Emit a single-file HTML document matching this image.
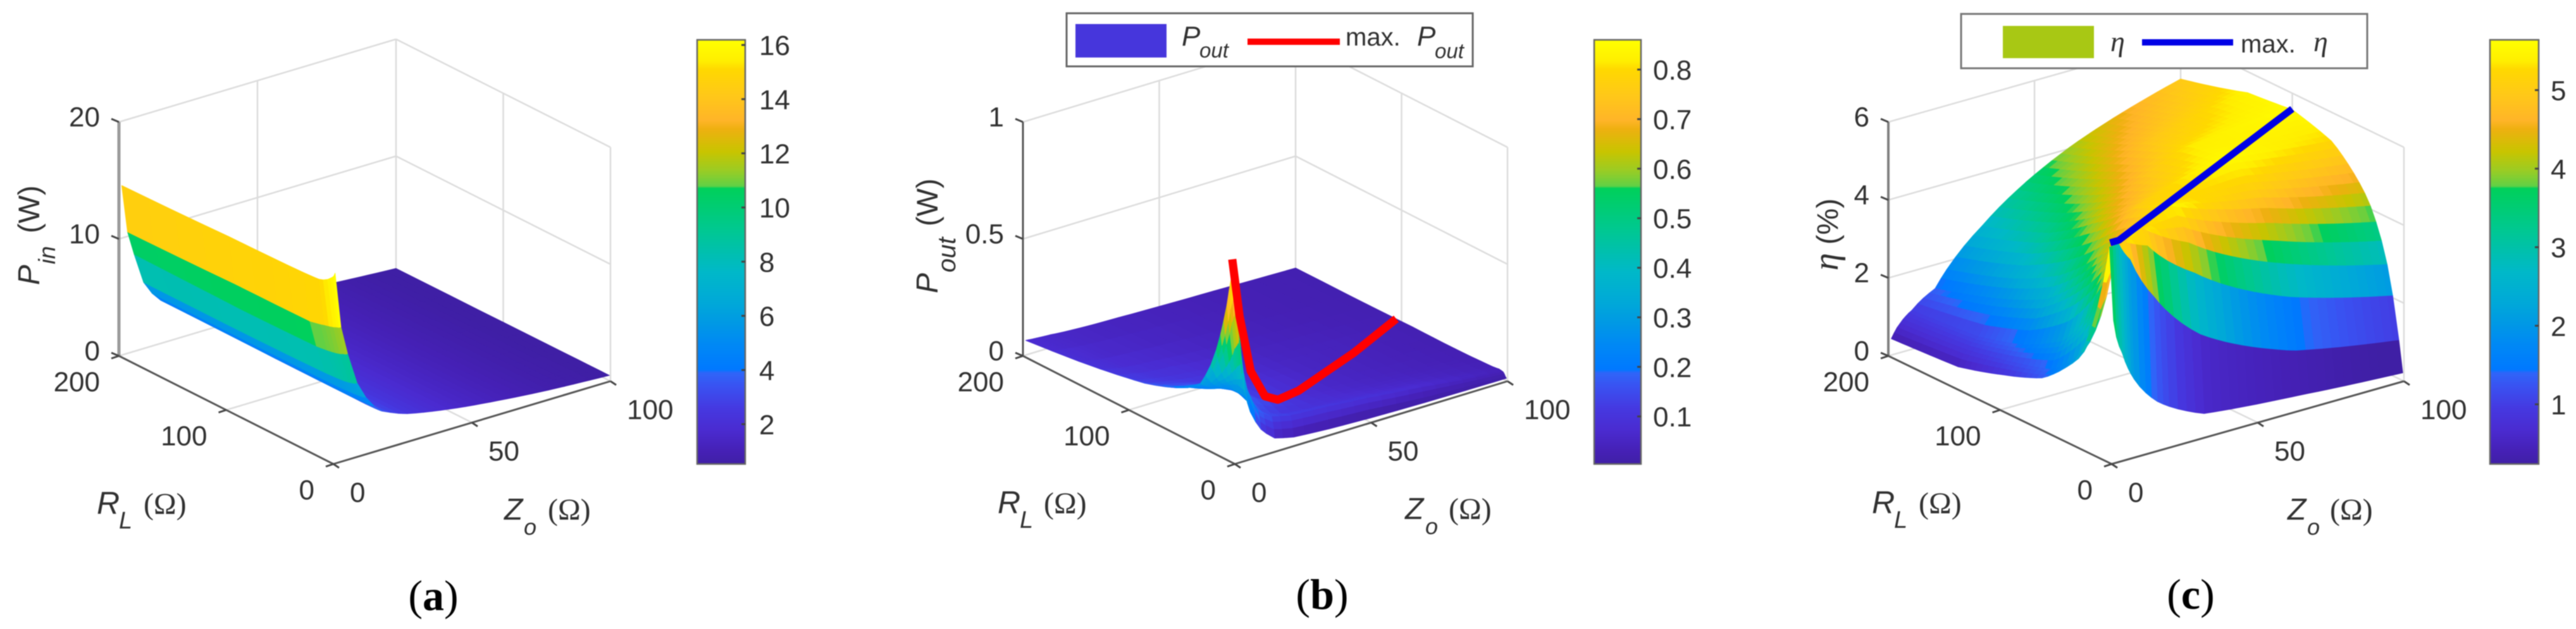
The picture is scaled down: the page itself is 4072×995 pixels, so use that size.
<!DOCTYPE html>
<html lang="en">
<head>
<meta charset="utf-8">
<title>Pin, Pout and efficiency surfaces versus Zo and RL</title>
<style>
html,body{margin:0;padding:0;background:#fff;width:4072px;height:995px;overflow:hidden}
svg{display:block;filter:blur(0.9px)}
text{font-family:"Liberation Sans",sans-serif;fill:#303030}
.serif{font-family:"Liberation Serif",serif}
.it{font-style:italic}
</style>
</head>
<body>
<svg id="figure" xmlns="http://www.w3.org/2000/svg" width="4072" height="995" viewBox="0 0 4072 995">
  <defs id="defs"></defs>
  <rect x="0" y="0" width="4072" height="995" fill="#fff"/>
  <g id="panel-a"></g>
  <g id="panel-b"></g>
  <g id="panel-c"></g>

  <g>
    <text class="it" transform="translate(62,451) rotate(-90)" font-size="48">P</text>
    <text class="it" transform="translate(87,418) rotate(-90)" font-size="37">in</text>
    <text transform="translate(62,369) rotate(-90)" font-size="47">(W)</text>
  </g>
  <g>
    <text class="it" x="153" y="813" font-size="50">R</text>
    <text class="it" x="188" y="836" font-size="38">L</text>
    <text class="serif" x="227" y="813" font-size="48">(Ω)</text>
  </g>
  <g>
    <text class="it" x="797" y="822" font-size="48">Z</text>
    <text class="it" x="828" y="846" font-size="36">o</text>
    <text class="serif" x="866" y="822" font-size="48">(Ω)</text>
  </g>
  <text class="serif" x="685" y="965" font-size="68" text-anchor="middle" style="fill:#000">(<tspan font-weight="bold">a</tspan>)</text>

  <g>
    <text class="it" transform="translate(1482,464) rotate(-90)" font-size="48">P</text>
    <text class="it" transform="translate(1510,431) rotate(-90)" font-size="40">out</text>
    <text transform="translate(1482,358) rotate(-90)" font-size="47">(W)</text>
  </g>
  <g>
    <text class="it" x="1577" y="812" font-size="50">R</text>
    <text class="it" x="1612" y="835" font-size="38">L</text>
    <text class="serif" x="1650" y="812" font-size="48">(Ω)</text>
  </g>
  <g>
    <text class="it" x="2221" y="821" font-size="48">Z</text>
    <text class="it" x="2253" y="845" font-size="36">o</text>
    <text class="serif" x="2290" y="821" font-size="48">(Ω)</text>
  </g>
  <text class="serif" x="2090" y="963" font-size="68" text-anchor="middle" style="fill:#000">(<tspan font-weight="bold">b</tspan>)</text>

  <g>
    <text class="serif it" transform="translate(2905,428) rotate(-90)" font-size="56">η</text>
    <text transform="translate(2905,387) rotate(-90)" font-size="47">(%)</text>
  </g>
  <g>
    <text class="it" x="2959" y="812" font-size="50">R</text>
    <text class="it" x="2994" y="835" font-size="38">L</text>
    <text class="serif" x="3033" y="812" font-size="48">(Ω)</text>
  </g>
  <g>
    <text class="it" x="3616" y="822" font-size="48">Z</text>
    <text class="it" x="3647" y="846" font-size="36">o</text>
    <text class="serif" x="3683" y="822" font-size="48">(Ω)</text>
  </g>
  <text class="serif" x="3463" y="963" font-size="68" text-anchor="middle" style="fill:#000">(<tspan font-weight="bold">c</tspan>)</text>

  <g>
    <rect x="1686" y="21" width="642" height="84" fill="#fff" stroke="#666" stroke-width="3"/>
    <rect x="1700" y="38" width="144" height="53" fill="#4636dc"/>
    <text class="it" x="1868" y="72" font-size="44">P</text>
    <text class="it" x="1896" y="91" font-size="33">out</text>
    <line x1="1972" y1="66" x2="2118" y2="66" stroke="#ff0000" stroke-width="10"/>
    <text x="2127" y="72" font-size="40">max.</text>
    <text class="it" x="2240" y="72" font-size="44">P</text>
    <text class="it" x="2268" y="92" font-size="33">out</text>
  </g>
  <g>
    <rect x="3100" y="22" width="642" height="86" fill="#fff" stroke="#777" stroke-width="3"/>
    <rect x="3166" y="41" width="144" height="51" fill="#a8c814"/>
    <text class="serif it" x="3336" y="81" font-size="46">η</text>
    <line x1="3386" y1="67" x2="3530" y2="67" stroke="#0000e6" stroke-width="10"/>
    <text x="3542" y="83" font-size="40">max.</text>
    <text class="serif it" x="3657" y="81" font-size="46">η</text>
  </g>
</svg>

<script>
// ---------- shared tick data ----------
const zoTicks = [0, 50, 100];
const rlTicks = [0, 100, 200];

// ---------- panel (a) input power, W ----------
const pinZo = [1, 3, 5.5, 9, 14, 18, 26, 48, 77, 100];
const pinRl = [1, 5, 15, 30, 100, 200];
const pinValues = [
  [16.2, 11.6, 9.0, 6.2, 4.1, 3.2, 2.4, 1.46, 0.76, 0.45],
  [15.6, 11.4, 8.8, 6.0, 4.0, 3.15, 2.4, 1.46, 0.76, 0.45],
  [15.0, 11.1, 8.5, 5.8, 3.95, 3.1, 2.4, 1.46, 0.76, 0.45],
  [14.9, 10.75, 8.3, 5.7, 3.9, 3.1, 2.4, 1.46, 0.76, 0.45],
  [14.75, 10.7, 8.2, 5.6, 3.9, 3.1, 2.4, 1.46, 0.76, 0.42],
  [14.5, 10.5, 8.3, 5.6, 3.9, 3.2, 2.4, 1.46, 0.76, 0.40]
];
const pinTicks = [0, 10, 20];
const pinBarTicks = [2, 4, 6, 8, 10, 12, 14, 16];

// ---------- panel (b) output power, W ----------
const poutZo = [1, 2, 3.5, 6, 10, 15, 22, 35, 50, 70, 100];
const poutRl = [1, 2, 4, 8, 14, 25, 35, 60, 90, 140, 200];
const poutValues = [
  [0.70, 0.52, 0.32, 0.20, 0.11, 0.055, 0.035, 0.024, 0.017, 0.012, 0.010],
  [0.78, 0.62, 0.40, 0.25, 0.14, 0.09, 0.07, 0.06, 0.05, 0.03, 0.015],
  [0.86, 0.65, 0.45, 0.29, 0.18, 0.14, 0.12, 0.11, 0.095, 0.07, 0.03],
  [0.72, 0.58, 0.42, 0.28, 0.19, 0.14, 0.118, 0.105, 0.09, 0.07, 0.034],
  [0.56, 0.46, 0.36, 0.29, 0.20, 0.14, 0.105, 0.09, 0.078, 0.06, 0.03],
  [0.365, 0.33, 0.29, 0.26, 0.22, 0.17, 0.13, 0.085, 0.066, 0.05, 0.028],
  [0.26, 0.25, 0.24, 0.22, 0.21, 0.18, 0.12, 0.08, 0.06, 0.044, 0.026],
  [0.19, 0.18, 0.18, 0.17, 0.165, 0.14, 0.12, 0.08, 0.055, 0.04, 0.024],
  [0.14, 0.13, 0.125, 0.12, 0.11, 0.10, 0.09, 0.07, 0.05, 0.04, 0.025],
  [0.095, 0.09, 0.085, 0.08, 0.07, 0.065, 0.06, 0.05, 0.04, 0.03, 0.022],
  [0.063, 0.062, 0.06, 0.058, 0.055, 0.05, 0.045, 0.04, 0.035, 0.03, 0.022]
];
const maxPoutZo = [1, 3.3, 7, 13, 22, 35, 50, 70, 100];
const maxPoutRl = [5, 4, 3, 5, 16, 30, 47, 68, 105];
const maxPoutValues = [0.86, 0.61, 0.365, 0.232, 0.16, 0.12, 0.095, 0.07, 0.024];
const poutTicks = [0, 0.5, 1];
const poutBarTicks = [0.1, 0.2, 0.3, 0.4, 0.5, 0.6, 0.7, 0.8];

// ---------- panel (c) efficiency, % ----------
const etaZo = [1, 2, 4, 8, 16, 32, 64, 100];
const etaRl = [1, 2, 4, 8, 16, 32, 64, 100, 140, 200];
const etaValues = [
  [3.65, 3.2, 2.75, 2.0, 1.25, 0.6, 0.38, 0.2],
  [4.6, 4.9, 4.8, 3.7, 2.35, 1.3, 0.62, 0.45],
  [5.6, 5.6, 5.58, 4.9, 3.7, 2.35, 1.3, 0.85],
  [4.9, 4.9, 5.2, 5.58, 4.9, 3.7, 2.35, 1.65],
  [3.7, 3.6, 3.9, 5.0, 5.58, 4.9, 3.7, 2.9],
  [2.3, 2.3, 2.5, 3.6, 5.0, 5.58, 4.9, 4.2],
  [1.3, 1.35, 1.45, 2.1, 3.55, 4.98, 5.58, 5.25],
  [0.88, 1.0, 1.15, 1.5, 2.5, 4.1, 5.35, 5.58],
  [0.53, 0.7, 0.9, 1.15, 1.95, 3.3, 4.85, 5.46],
  [0.42, 0.55, 0.75, 1.0, 1.39, 2.65, 4.1, 4.98]
];
const maxEtaZo = [1, 4, 10, 20, 30, 40, 50, 60, 70, 80, 90, 100];
const maxEtaRl = [4, 4, 10, 20, 30, 40, 50, 60, 70, 80, 90, 100];
const maxEtaValues = [5.6, 5.6, 5.6, 5.6, 5.6, 5.6, 5.6, 5.6, 5.6, 5.6, 5.6, 5.6];
const etaTicks = [0, 2, 4, 6];
const etaBarTicks = [1, 2, 3, 4, 5];

// ---------- colormap ----------
const cmapPos = [0, 0.03, 0.08, 0.13, 0.18, 0.215, 0.222, 0.28, 0.33, 0.38, 0.453, 0.553, 0.65, 0.655, 0.69, 0.736, 0.79, 0.81, 0.87, 0.93, 0.95, 1];
const cmapHex = ['#3f1fa5', '#4520b5', '#4a2bd0', '#4538e0', '#3a50f0', '#2f65f8', '#0078ff', '#0088f5', '#0098e5', '#00a8d8', '#00b8c8', '#00c890', '#00d05a', '#60d045', '#98cc25', '#c8c400', '#eeb010', '#ffb428', '#ffc818', '#ffd800', '#ffee00', '#ffff00'];

const NS = 'http://www.w3.org/2000/svg';
function rgb(h) { return [parseInt(h.substr(1, 2), 16), parseInt(h.substr(3, 2), 16), parseInt(h.substr(5, 2), 16)]; }
function cmap(t) {
  t = Math.max(0, Math.min(1, t));
  let k = 0;
  while (k < cmapPos.length - 2 && t > cmapPos[k + 1]) k++;
  const f = (t - cmapPos[k]) / (cmapPos[k + 1] - cmapPos[k]);
  const a = rgb(cmapHex[k]), b = rgb(cmapHex[k + 1]);
  return 'rgb(' + Math.round(a[0] + (b[0] - a[0]) * f) + ',' + Math.round(a[1] + (b[1] - a[1]) * f) + ',' + Math.round(a[2] + (b[2] - a[2]) * f) + ')';
}

// axis functions: data -> pixels
function project(p, zo, rl, v) {
  return [
    p.fx + zo / 100 * (p.rx - p.fx) + rl / 200 * (p.lx - p.fx),
    p.fy + zo / 100 * (p.ry - p.fy) + rl / 200 * (p.ly - p.fy) - v / p.zMax * p.zPx
  ];
}
function barY(p, v) { return p.barBottom - (v - p.cLo) / (p.cHi - p.cLo) * (p.barBottom - p.barTop); }

// surface lookup, bilinear in log coordinates over the read values
function bracket(arr, x) {
  let i = 0;
  while (i < arr.length - 2 && x > arr[i + 1]) i++;
  return [i, (Math.log(x) - Math.log(arr[i])) / (Math.log(arr[i + 1]) - Math.log(arr[i]))];
}
function lookup(zoArr, rlArr, vals, zo, rl) {
  const a = bracket(zoArr, zo), b = bracket(rlArr, rl);
  const i = b[0], j = a[0], u = a[1], w = b[1];
  return (vals[i][j] * (1 - u) + vals[i][j + 1] * u) * (1 - w) + (vals[i + 1][j] * (1 - u) + vals[i + 1][j + 1] * u) * w;
}

function addLine(parent, a, b, stroke, width, name) {
  const el = document.createElementNS(NS, 'line');
  
  
  el.setAttribute('x1', a[0]); el.setAttribute('y1', a[1]);
  el.setAttribute('x2', b[0]); el.setAttribute('y2', b[1]);
  el.setAttribute('stroke', stroke); el.setAttribute('stroke-width', width);
  parent.appendChild(el);
}
function addText(parent, x, y, str, anchor, name) {
  const el = document.createElementNS(NS, 'text');
  
  
  el.setAttribute('x', x); el.setAttribute('y', y);
  el.setAttribute('font-size', 44);
  el.setAttribute('text-anchor', anchor);
  el.textContent = str;
  parent.appendChild(el);
}

function drawFrame(g, p, zTicks, zLabels) {
  const GRID = '#dcdcdc';
  // floor
  addLine(g, project(p, 0, 200, 0), project(p, 100, 200, 0), GRID, 2.5, 'floor-grid-line');
  addLine(g, project(p, 100, 200, 0), project(p, 100, 0, 0), GRID, 2.5, 'floor-grid-line');
  addLine(g, project(p, 50, 200, 0), project(p, 50, 0, 0), GRID, 2.5, 'floor-grid-line');
  addLine(g, project(p, 0, 100, 0), project(p, 100, 100, 0), GRID, 2.5, 'floor-grid-line');
  // walls
  zTicks.forEach(function (v) {
    if (v === 0) return;
    addLine(g, project(p, 0, 200, v), project(p, 100, 200, v), GRID, 2.5, 'back-wall-grid-line');
    addLine(g, project(p, 100, 200, v), project(p, 100, 0, v), GRID, 2.5, 'side-wall-grid-line');
  });
  const top = zTicks[zTicks.length - 1];
  addLine(g, project(p, 50, 200, 0), project(p, 50, 200, top), GRID, 2.5, 'back-wall-grid-line');
  addLine(g, project(p, 100, 200, 0), project(p, 100, 200, top), GRID, 2.5, 'corner-grid-line');
  addLine(g, project(p, 100, 100, 0), project(p, 100, 100, top), GRID, 2.5, 'side-wall-grid-line');
  addLine(g, project(p, 100, 0, 0), project(p, 100, 0, top), GRID, 2.5, 'side-wall-grid-line');
  // axes
  addLine(g, project(p, 0, 200, 0), project(p, 0, 200, top), p.zAxisColor, p.zAxisWidth, 'vertical-axis-line');
  addLine(g, project(p, 0, 0, 0), project(p, 0, 200, 0), '#555', 3, 'rl-axis-line');
  addLine(g, project(p, 0, 0, 0), project(p, 100, 0, 0), '#555', 3, 'zo-axis-line');
  // ticks and labels
  zTicks.forEach(function (v, i) {
    const q = project(p, 0, 200, v);
    addLine(g, q, [q[0] - 12, q[1] - 5], '#444', 3, 'vertical-axis-tick');
    addText(g, q[0] - 30, q[1] + 7, zLabels[i], 'end', 'vertical-axis-tick-label');
  });
  rlTicks.forEach(function (v) {
    const q = project(p, 0, v, 0);
    addLine(g, q, [q[0] - 12, q[1] + 4], '#444', 3, 'rl-axis-tick');
    addText(g, q[0] - 30, q[1] + 56, String(v), 'end', 'rl-axis-tick-label');
  });
  zoTicks.forEach(function (v) {
    const q = project(p, v, 0, 0);
    addLine(g, q, [q[0] + 9, q[1] + 6], '#444', 3, 'zo-axis-tick');
    addText(g, q[0] + 26, q[1] + 60, String(v), 'start', 'zo-axis-tick-label');
  });
}

function drawSurface(g, p, zoArr, rlArr, vals, zoMesh, rlMesh) {
  const grp = document.createElementNS(NS, 'g');
  
  
  g.appendChild(grp);
  const Z = rlMesh.map(function (r) { return zoMesh.map(function (z) { return lookup(zoArr, rlArr, vals, z, r); }); });
  for (let i = rlMesh.length - 2; i >= 0; i--) {
    for (let j = zoMesh.length - 2; j >= 0; j--) {
      const a = project(p, zoMesh[j], rlMesh[i], Z[i][j]);
      const b = project(p, zoMesh[j + 1], rlMesh[i], Z[i][j + 1]);
      const c = project(p, zoMesh[j + 1], rlMesh[i + 1], Z[i + 1][j + 1]);
      const d = project(p, zoMesh[j], rlMesh[i + 1], Z[i + 1][j]);
      const col = cmap((Z[i][j] - p.cLo) / (p.cHi - p.cLo));
      const el = document.createElementNS(NS, 'polygon');
      
      
      el.setAttribute('points', [a, b, c, d].map(function (q) { return q[0].toFixed(1) + ',' + q[1].toFixed(1); }).join(' '));
      el.setAttribute('fill', col);
      el.setAttribute('stroke', col);
      el.setAttribute('stroke-width', '0.9');
      el.setAttribute('stroke-linejoin', 'round');
      grp.appendChild(el);
    }
  }
}

function drawMaxLine(g, p, zo, rl, v, color, width, name) {
  const el = document.createElementNS(NS, 'polyline');
  
  
  el.setAttribute('points', zo.map(function (z, i) {
    const q = project(p, z, rl[i], v[i]);
    return q[0].toFixed(1) + ',' + q[1].toFixed(1);
  }).join(' '));
  el.setAttribute('fill', 'none');
  el.setAttribute('stroke', color);
  el.setAttribute('stroke-width', width);
  el.setAttribute('stroke-linejoin', 'round');
  g.appendChild(el);
}

function drawColorbar(g, p, id, ticks, labels) {
  const defs = document.getElementById('defs');
  const grad = document.createElementNS(NS, 'linearGradient');
  grad.setAttribute('id', id);
  grad.setAttribute('x1', '0'); grad.setAttribute('y1', '1');
  grad.setAttribute('x2', '0'); grad.setAttribute('y2', '0');
  cmapPos.forEach(function (t, i) {
    const s = document.createElementNS(NS, 'stop');
    s.setAttribute('offset', t);
    s.setAttribute('stop-color', cmapHex[i]);
    grad.appendChild(s);
  });
  defs.appendChild(grad);
  const r = document.createElementNS(NS, 'rect');
  
  
  r.setAttribute('x', p.barL); r.setAttribute('y', p.barTop);
  r.setAttribute('width', p.barR - p.barL); r.setAttribute('height', p.barBottom - p.barTop);
  r.setAttribute('fill', 'url(#' + id + ')');
  r.setAttribute('stroke', '#666'); r.setAttribute('stroke-width', '2.5');
  g.appendChild(r);
  ticks.forEach(function (v, i) {
    const y = barY(p, v);
    addLine(g, [p.barR - 6, y], [p.barR, y], '#444', 3, 'colorbar-tick');
    addText(g, p.barR + p.barGap, y + 16, labels[i], 'start', 'colorbar-tick-label');
  });
}

const panelA = { fx: 527, fy: 734, rx: 965, ry: 603, lx: 188, ly: 563, zMax: 20, zPx: 370, cLo: 0.53, cHi: 16.19, barL: 1102, barR: 1178, barTop: 63, barBottom: 734, barGap: 22, zAxisColor: '#9a9a9a', zAxisWidth: 5 };
const panelB = { fx: 1952, fy: 734, rx: 2383, ry: 603, lx: 1617, ly: 563, zMax: 1, zPx: 370, cLo: 0.004, cHi: 0.86, barL: 2520, barR: 2594, barTop: 63, barBottom: 734, barGap: 19, zAxisColor: '#555', zAxisWidth: 3 };
const panelC = { fx: 3338, fy: 734, rx: 3800, ry: 603, lx: 2985, ly: 563, zMax: 6, zPx: 370, cLo: 0.24, cHi: 5.64, barL: 3936, barR: 4013, barTop: 63, barBottom: 734, barGap: 19, zAxisColor: '#808080', zAxisWidth: 4 };

// render sampling of each surface (the facet grid, not data)
const meshA = {
  zo: [1, 3.1, 5.5, 8.9, 12, 15, 18, 21, 24, 27, 30, 33, 36, 39, 42, 45, 48, 51, 54, 57, 60, 63, 66, 69, 72, 75, 78, 81, 84, 87, 90, 93, 96, 100],
  rl: [1, 2, 3, 5, 8, 12, 16, 20, 30, 45, 60, 80, 100, 125, 150, 175, 200]
};
const meshB = {
  zo: [1, 1.5, 2, 3, 4, 5, 6, 8, 10, 12, 15, 18, 22, 26, 30, 35, 40, 45, 50, 55, 60, 65, 70, 75, 80, 85, 90, 95, 100],
  rl: [1, 2, 3, 4, 5, 6, 8, 10, 13, 16, 20, 25, 30, 35, 40, 50, 60, 70, 80, 90, 100, 115, 130, 150, 175, 200]
};
const meshC = {
  zo: [1, 2, 3, 4, 5, 6, 7, 8, 10, 12, 14, 16, 18, 20, 23, 26, 29, 32, 35, 38, 41, 44, 47, 50, 53, 56, 59, 62, 65, 68, 71, 74, 77, 80, 83, 86, 89, 92, 95, 98, 100],
  rl: [1, 4.5, 10, 15, 20, 25, 30, 35, 40, 45, 50, 55, 60, 65, 70, 75, 80, 85, 90, 95, 100, 105, 110, 115, 120, 125, 130, 135, 140, 145, 150, 155, 160, 165, 170, 175, 180, 185, 190, 195, 200]
};

const gA = document.getElementById('panel-a');
const gB = document.getElementById('panel-b');
const gC = document.getElementById('panel-c');

drawFrame(gA, panelA, pinTicks, pinTicks.map(String));
drawSurface(gA, panelA, pinZo, pinRl, pinValues, meshA.zo, meshA.rl);
drawColorbar(gA, panelA, 'cbar-a', pinBarTicks, pinBarTicks.map(String));

drawFrame(gB, panelB, poutTicks, poutTicks.map(String));
drawSurface(gB, panelB, poutZo, poutRl, poutValues, meshB.zo, meshB.rl);
drawMaxLine(gB, panelB, maxPoutZo, maxPoutRl, maxPoutValues, '#ff0000', 13, 'max-pout-line');
drawColorbar(gB, panelB, 'cbar-b', poutBarTicks, poutBarTicks.map(function (v) { return v.toFixed(1); }));

drawFrame(gC, panelC, etaTicks, etaTicks.map(String));
drawSurface(gC, panelC, etaZo, etaRl, etaValues, meshC.zo, meshC.rl);
drawMaxLine(gC, panelC, maxEtaZo, maxEtaRl, maxEtaValues, '#0000e6', 11, 'max-efficiency-line');
drawColorbar(gC, panelC, 'cbar-c', etaBarTicks, etaBarTicks.map(String));
</script>
</body>
</html>
